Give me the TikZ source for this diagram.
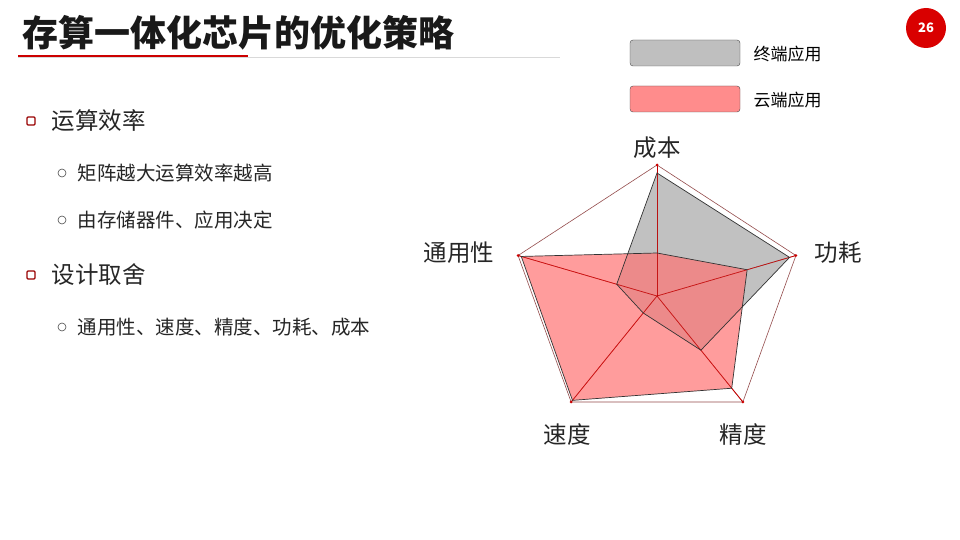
\documentclass[tikz,border=0pt]{standalone}
\usepackage{fontspec}
\usetikzlibrary{calc}
\setmainfont{Noto Sans CJK SC}
\begin{document}
\begin{tikzpicture}[x=1pt,y=-1pt,
  lab/.style={font=\fontsize{23.5}{23.5}\selectfont, text=black!85, inner sep=0pt},
  sub/.style={font=\fontsize{19.5}{19.5}\selectfont, text=black!85, anchor=west},
  main/.style={font=\fontsize{23.5}{23.5}\selectfont, text=black!85, anchor=west},
  bul/.style={draw=red!60!black, line width=1.3pt, minimum size=8pt, inner sep=0pt, rounded corners=1pt},
  circ/.style={draw=black!70, circle, minimum size=8pt, inner sep=0pt, line width=0.6pt},
  spoke/.style={draw=red!75!black, line width=0.7pt}]
\useasboundingbox (0,0) rectangle (960,540);
\fill[white] (0,0) rectangle (960,540);
\node[anchor=west, font=\fontsize{36}{36}\selectfont\bfseries, text=black!90] (title) at (19,33) {存算一体化芯片的优化策略};
\draw[black!15, line width=0.6pt] (18,57) -- (560,57);
\draw[red!80!black, line width=2.5pt] (18,56) -- (248,56);
\node[circle, fill=red!85!black, minimum size=40pt, inner sep=0pt, text=white, font=\bfseries\fontsize{13}{13}\selectfont] (pg) at (926,28) {26};
% legend
\node[draw=black!70, fill=black!25, rounded corners=3pt, minimum width=110pt, minimum height=26pt] (lg1) at (685,53) {};
\node[draw=black!70, fill=red!45, rounded corners=3pt, minimum width=110pt, minimum height=26pt] (lg2) at (685,99) {};
\node[anchor=west, font=\fontsize{17}{17}\selectfont] (lt1) at (750,54) {终端应用};
\node[anchor=west, font=\fontsize{17}{17}\selectfont] (lt2) at (750,100) {云端应用};
% bullets
\node[bul] (b1) at (31,121) {};
\node[main] (t1) at (48,121) {运算效率};
\node[circ] (c1) at (62,173) {};
\node[sub] (s1) at (74,173) {矩阵越大运算效率越高};
\node[circ] (c2) at (62,220) {};
\node[sub] (s2) at (74,220) {由存储器件、应用决定};
\node[bul] (b2) at (31,275) {};
\node[main] (t2) at (48,275) {设计取舍};
\node[circ] (c3) at (62,327) {};
\node[sub] (s3) at (74,327) {通用性、速度、精度、功耗、成本};
% radar
\begin{scope}[shift={(657,296)}, x=1.115pt, y=1pt]
\coordinate (O) at (0,0);
\foreach \i/\a in {1/90,2/18,3/-54,4/-126,5/162}{
  \coordinate (v\i) at (\a:131);
}
\draw[red!40!black!70, line width=0.6pt] (v1)--(v2)--(v3)--(v4)--(v5)--cycle;
\foreach \i in {1,...,5} \draw[spoke] (O) -- (v\i);
\fill[black!40, fill opacity=0.6] (90:123) -- (18:125) -- (-54:67) -- (-126:21) -- (162:38) -- cycle;
\fill[red!55, fill opacity=0.7] (90:43) -- (18:85) -- (-54:114) -- (-126:129) -- (162:128) -- cycle;
\foreach \i in {1,...,5} \draw[spoke, draw opacity=0.8] (O) -- (v\i);
\draw[black!80, line width=0.7pt] (90:123) -- (18:125) -- (-54:67) -- (-126:21) -- (162:38) -- cycle;
\draw[black!80, line width=0.7pt] (90:43) -- (18:85) -- (-54:114) -- (-126:129) -- (162:128) -- cycle;
\foreach \i in {1,...,5} \fill[red!80!black] (v\i) circle (1.5pt);
\end{scope}
\node[lab] (l1) at (657,148) {成本};
\node[lab] (l2) at (838,253) {功耗};
\node[lab] (l3) at (743,435) {精度};
\node[lab] (l4) at (567,435) {速度};
\node[lab] (l5) at (459,253) {通用性};
\end{tikzpicture}
\end{document}
